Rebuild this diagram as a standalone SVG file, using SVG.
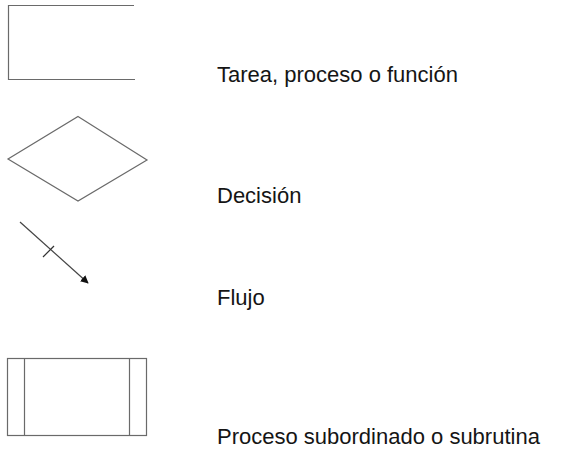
<svg xmlns="http://www.w3.org/2000/svg" width="562" height="454" viewBox="0 0 562 454">
<style>
.ln{fill:none;stroke:#6a6a6a;stroke-width:1.2}
.tx{font-family:"Liberation Sans",Arial,sans-serif;font-size:22px;fill:#151515}
</style>
<defs>
<marker id="ah" viewBox="0 0 10 10" refX="9" refY="5" markerWidth="8" markerHeight="8" markerUnits="userSpaceOnUse" orient="auto">
<path d="M0,0 L10,5 L0,10 Z" fill="#111"/>
</marker>
</defs>
<rect width="562" height="454" fill="#fff"/>
<g id="task">
<path class="ln" d="M134,5.5 H8.5 V79.5 H135"/>
<text class="tx" x="217" y="82">Tarea, proceso o función</text>
</g>
<g id="decision">
<path class="ln" d="M78,116.5 L147,160 L78,201 L8,159 Z"/>
<text class="tx" x="217" y="203">Decisión</text>
</g>
<g id="connectors">
<line class="ln" x1="20" y1="222" x2="88" y2="283" marker-end="url(#ah)" style="stroke:#444"/>
<line class="ln" x1="43" y1="257" x2="54" y2="246" style="stroke:#333"/>
</g>
<g id="flow">
<text class="tx" x="217" y="305">Flujo</text>
</g>
<g id="subroutine">
<rect class="ln" x="7.5" y="358.5" width="139" height="77"/>
<line class="ln" x1="24.5" y1="358.5" x2="24.5" y2="435.5"/>
<line class="ln" x1="129.5" y1="358.5" x2="129.5" y2="435.5"/>
<text class="tx" x="217" y="444">Proceso subordinado o subrutina</text>
</g>
</svg>
